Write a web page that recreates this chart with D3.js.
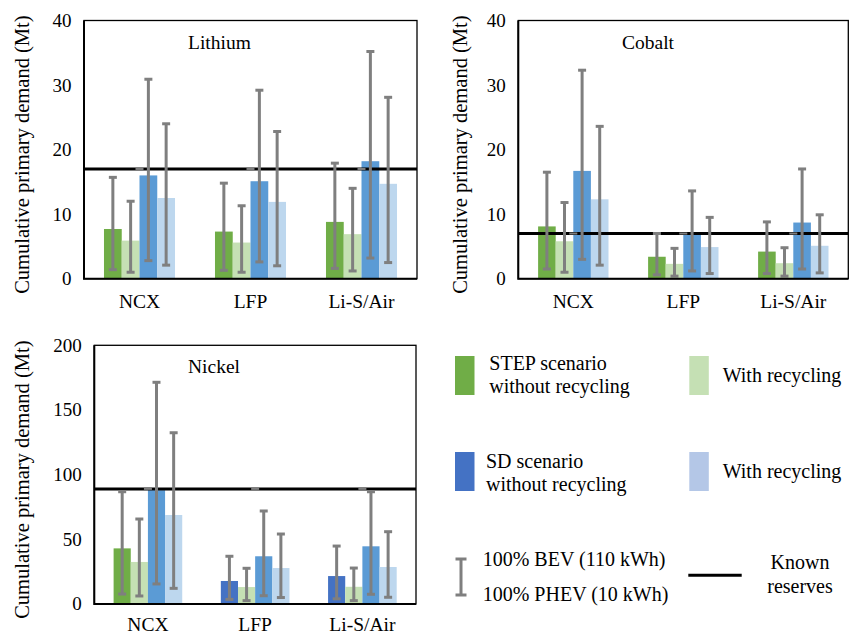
<!DOCTYPE html>
<html>
<head>
<meta charset="utf-8">
<script src="https://cdn.jsdelivr.net/npm/d3@7"></script>
<style>
    body { margin: 0; background: white; }
    svg { display: block; }
</style>
</head>
<body>
<svg width="853" height="635"></svg>
<script>
const categories = ["NCX", "LFP", "Li-S/Air"]
// columns: STEP w/o recycling, STEP with recycling, SD w/o recycling, SD with recycling
const lithiumValues = [[7.7, 5.9, 16.0, 12.5], [7.3, 5.6, 15.1, 11.9], [8.8, 6.9, 18.2, 14.7]]
const lithiumLow = [[1.4, 1.0, 2.8, 2.1], [1.3, 1.0, 2.6, 2.0], [1.6, 1.2, 3.2, 2.5]]
const lithiumHigh = [[15.7, 12.0, 30.9, 24.0], [14.8, 11.3, 29.2, 22.8], [17.9, 14.0, 35.2, 28.1]]
const lithiumReserve = 17

const cobaltValues = [[8.1, 5.8, 16.7, 12.3], [3.4, 2.3, 7.0, 4.9], [4.2, 2.4, 8.7, 5.1]]
const cobaltLow = [[1.5, 1.0, 3.0, 2.1], [0.6, 0.4, 1.2, 0.8], [0.8, 0.4, 1.5, 0.9]]
const cobaltHigh = [[16.5, 11.8, 32.3, 23.6], [7.0, 4.7, 13.6, 9.5], [8.8, 4.8, 17.0, 9.9]]
const cobaltReserve = 7

const nickelValues = [[43.0, 32.5, 88.0, 68.8], [17.8, 13.1, 36.9, 27.8], [21.6, 13.3, 44.6, 28.6]]
const nickelLow = [[7.7, 6.2, 15.5, 12.1], [3.6, 2.6, 6.4, 5.0], [4.0, 2.6, 7.5, 5.2]]
const nickelHigh = [[86.8, 65.7, 171.4, 132.4], [36.9, 27.6, 71.9, 54.1], [44.8, 27.8, 86.8, 55.9]]
const nickelReserve = 89

const smallTicks = [0, 10, 20, 30, 40]
const nickelTicks = [0, 50, 100, 150, 200]

const green = "#70ad47", lightGreen = "#c5e0b4", darkBlue = "#4472c4", midBlue = "#5b9bd5", paleBlue = "#bdd7ee"
const errGrey = "#7f7f7f"
const serif = "Liberation Serif"

const panels = [
    {title: "Lithium", values: lithiumValues, low: lithiumLow, high: lithiumHigh, reserve: lithiumReserve,
     ticks: smallTicks, x0: 84, x1: 417, y0: 20.5, y1: 278.7, titleX: 188, labelX: 22, first: [green, green, green]},
    {title: "Cobalt", values: cobaltValues, low: cobaltLow, high: cobaltHigh, reserve: cobaltReserve,
     ticks: smallTicks, x0: 518.3, x1: 848.3, y0: 20.5, y1: 278.7, titleX: 622, labelX: 460, first: [green, green, green]},
    {title: "Nickel", values: nickelValues, low: nickelLow, high: nickelHigh, reserve: nickelReserve,
     ticks: nickelTicks, x0: 94.3, x1: 416, y0: 345.3, y1: 604, titleX: 188, labelX: 22, first: [green, darkBlue, darkBlue]}
]

function drawPanel(svg, p) {
    const g = svg.append("g")
    const x = d3.scaleBand().domain(categories).range([p.x0, p.x1])
    const y = d3.scaleLinear().domain([p.ticks[0], p.ticks[p.ticks.length - 1]]).range([p.y1, p.y0])
    const inner = d3.scaleBand().domain(d3.range(4)).range([0, x.bandwidth() * 0.64])
    const offset = x.bandwidth() * 0.18
    const colorOf = (ci, si) => [p.first[ci], lightGreen, midBlue, paleBlue][si]

    const rows = categories.flatMap((c, ci) => p.values[ci].map((v, si) => ({
        c, ci, si, v, lo: p.low[ci][si], hi: p.high[ci][si]
    })))
    const cx = d => x(d.c) + offset + inner(d.si) + inner.bandwidth() / 2

    g.selectAll("rect.bar")
        .data(rows)
        .enter()
        .append("rect")
        .attr("class", "bar")
        .attr("x", d => x(d.c) + offset + inner(d.si))
        .attr("width", inner.bandwidth())
        .attr("y", d => y(d.v))
        .attr("height", d => y(0) - y(d.v))
        .attr("fill", d => colorOf(d.ci, d.si))

    // known reserves
    g.append("line")
        .attr("x1", p.x0).attr("x2", p.x1)
        .attr("y1", y(p.reserve)).attr("y2", y(p.reserve))
        .attr("stroke", "black")
        .attr("stroke-width", 3)

    const err = g.selectAll("g.err")
        .data(rows)
        .enter()
        .append("g")
        .attr("class", "err")
        .attr("stroke", errGrey)
        .attr("stroke-width", 3)
    err.append("line")
        .attr("x1", cx).attr("x2", cx)
        .attr("y1", d => y(d.lo)).attr("y2", d => y(d.hi))
    err.append("line")
        .attr("x1", d => cx(d) - 4).attr("x2", d => cx(d) + 4)
        .attr("y1", d => y(d.lo)).attr("y2", d => y(d.lo))
    err.append("line")
        .attr("x1", d => cx(d) - 4).attr("x2", d => cx(d) + 4)
        .attr("y1", d => y(d.hi)).attr("y2", d => y(d.hi))

    // small caps of the reserves series at each group centre
    g.selectAll("line.rcap")
        .data(categories)
        .enter()
        .append("line")
        .attr("class", "rcap")
        .attr("x1", c => x(c) + x.bandwidth() / 2 - 4)
        .attr("x2", c => x(c) + x.bandwidth() / 2 + 4)
        .attr("y1", y(p.reserve)).attr("y2", y(p.reserve))
        .attr("stroke", errGrey)
        .attr("stroke-width", 2)

    // frame
    g.append("rect")
        .attr("x", p.x0).attr("y", p.y0)
        .attr("width", p.x1 - p.x0).attr("height", p.y1 - p.y0)
        .attr("fill", "none")
        .attr("stroke", "black")
        .attr("stroke-width", 1.3)
    g.append("path")
        .attr("d", `M${p.x0},${p.y0}V${p.y1}H${p.x1}`)
        .attr("fill", "none")
        .attr("stroke", "black")
        .attr("stroke-width", 2)

    g.selectAll("text.tick")
        .data(p.ticks)
        .enter()
        .append("text")
        .attr("class", "tick")
        .attr("x", p.x0 - 12.5)
        .attr("y", d => y(d))
        .attr("dy", "0.34em")
        .attr("text-anchor", "end")
        .attr("font-family", serif)
        .attr("font-size", 19)
        .text(d => d)

    g.selectAll("text.cat")
        .data(categories)
        .enter()
        .append("text")
        .attr("class", "cat")
        .attr("x", c => x(c) + x.bandwidth() / 2)
        .attr("y", Math.min(p.y1 + 29, 631))
        .attr("text-anchor", "middle")
        .attr("font-family", serif)
        .attr("font-size", 19.5)
        .text(c => c)

    g.append("text")
        .attr("x", p.titleX)
        .attr("y", p.y0 + 28)
        .attr("font-family", serif)
        .attr("font-size", 19.5)
        .text(p.title)

    const midY = (p.y0 + p.y1) / 2 + 5
    g.append("text")
        .attr("transform", `translate(${p.labelX}, ${midY}) rotate(-90)`)
        .attr("dy", "0.34em")
        .attr("text-anchor", "middle")
        .attr("font-family", serif)
        .attr("font-size", 20.5)
        .text("Cumulative primary demand (Mt)")
}

function drawLegend(svg) {
    const lg = svg.append("g")
    const swatches = [
        {x: 455, y: 356, fill: green}, {x: 689.3, y: 356, fill: lightGreen},
        {x: 455, y: 452, fill: darkBlue}, {x: 689.3, y: 452, fill: "#b4c7e7"}
    ]
    lg.selectAll("rect")
        .data(swatches)
        .enter()
        .append("rect")
        .attr("x", d => d.x).attr("y", d => d.y)
        .attr("width", 19.5).attr("height", 39)
        .attr("fill", d => d.fill)

    const texts = [
        {x: 489.3, y: 369.5, t: "STEP scenario"}, {x: 489.3, y: 392.7, t: "without recycling"},
        {x: 722.7, y: 381.7, t: "With recycling"},
        {x: 486, y: 467.7, t: "SD scenario"}, {x: 486, y: 491, t: "without recycling"},
        {x: 722.7, y: 478.3, t: "With recycling"},
        {x: 482.7, y: 565.7, t: "100% BEV (110 kWh)"}, {x: 482.7, y: 601, t: "100% PHEV (10 kWh)"},
        {x: 800, y: 569.3, t: "Known", a: "middle"}, {x: 800, y: 593.3, t: "reserves", a: "middle"}
    ]
    lg.selectAll("text")
        .data(texts)
        .enter()
        .append("text")
        .attr("x", d => d.x).attr("y", d => d.y)
        .attr("text-anchor", d => d.a || "start")
        .attr("font-family", serif)
        .attr("font-size", 20)
        .text(d => d.t)

    const eb = lg.append("g").attr("stroke", errGrey).attr("stroke-width", 3)
    eb.append("line").attr("x1", 461).attr("x2", 461).attr("y1", 559).attr("y2", 595)
    eb.append("line").attr("x1", 455.5).attr("x2", 466.5).attr("y1", 559).attr("y2", 559)
    eb.append("line").attr("x1", 455.5).attr("x2", 466.5).attr("y1", 595).attr("y2", 595)

    lg.append("line")
        .attr("x1", 688.3).attr("x2", 741.7)
        .attr("y1", 575.3).attr("y2", 575.3)
        .attr("stroke", "black")
        .attr("stroke-width", 3)
}

const svg = d3.select("svg")
svg.append("rect").attr("width", 853).attr("height", 635).attr("fill", "white")
panels.forEach(p => drawPanel(svg, p))
drawLegend(svg)
</script>
</body>
</html>
